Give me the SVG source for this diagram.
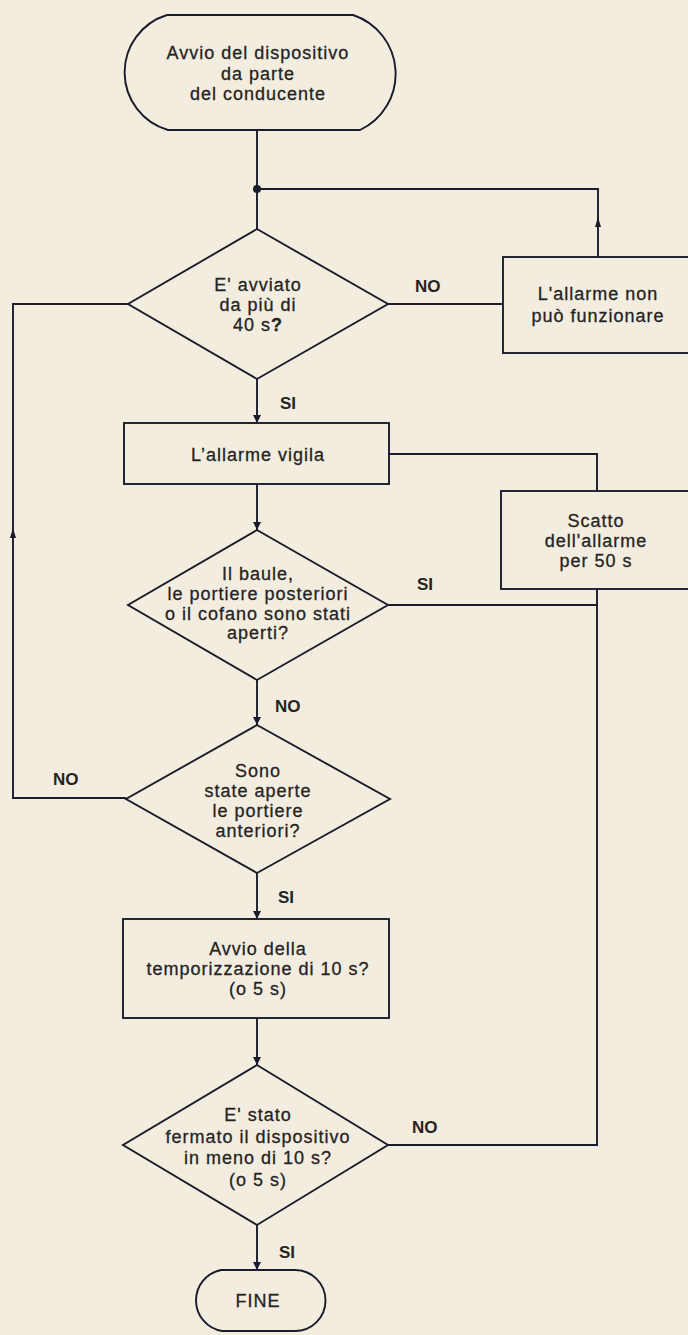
<svg xmlns="http://www.w3.org/2000/svg" width="688" height="1335" viewBox="0 0 688 1335">
<style>
.bg{fill:#f2eddf}
.shape{fill:none;stroke:#1c1b2b;stroke-width:1.9;stroke-linejoin:miter}
.line{fill:none;stroke:#1c1b2b;stroke-width:1.9}
.t{font-family:"Liberation Sans",Arial,sans-serif;font-size:18px;letter-spacing:1px;fill:#262323;stroke:#262323;stroke-width:0.3;text-anchor:middle}
.lab{font-family:"Liberation Sans",Arial,sans-serif;font-size:17px;font-weight:bold;fill:#262323}
.ah{fill:#1c1b2b}
</style>
<defs>
<marker id="arr" markerUnits="userSpaceOnUse" markerWidth="8" markerHeight="10" refX="10" refY="5" viewBox="0 0 10 10" orient="auto">
<path d="M0,0 L10,5 L0,10 Z" class="ah"/>
</marker>
</defs>
<rect class="bg" x="0" y="0" width="688" height="1335"/>

<g id="connectors">
<path class="line" d="M257,130 V229"/>
<circle class="ah" cx="257" cy="189" r="4"/>
<path class="line" d="M598,257 V189 H257"/>
<path class="ah" d="M598,217 L595,227 L601,227 Z"/>
<path class="line" d="M388,304 H503"/>
<path class="line" d="M128,304 H13 V798 H126"/>
<path class="ah" d="M13,528 L10,538 L16,538 Z"/>
<path class="line" d="M257,379 V423" marker-end="url(#arr)"/>
<path class="line" d="M257,484 V530" marker-end="url(#arr)"/>
<path class="line" d="M389,454 H597 V491"/>
<path class="line" d="M388,605 H597"/>
<path class="line" d="M597,589 V1145 H388"/>
<path class="line" d="M257,680 V725" marker-end="url(#arr)"/>
<path class="line" d="M257,873 V919" marker-end="url(#arr)"/>
<path class="line" d="M257,1018 V1065" marker-end="url(#arr)"/>
<path class="line" d="M257,1225 V1270" marker-end="url(#arr)"/>
<text class="lab" x="415" y="292">NO</text>
<text class="lab" x="280" y="409">SI</text>
<text class="lab" x="417" y="590">SI</text>
<text class="lab" x="275" y="712">NO</text>
<text class="lab" x="53" y="785">NO</text>
<text class="lab" x="278" y="903">SI</text>
<text class="lab" x="412" y="1133">NO</text>
<text class="lab" x="279" y="1258">SI</text>
</g>

<g id="start">
<path class="shape" d="M167,15 H353 A62,62 0 0 1 360,130 H168 A60,60 0 0 1 167,15 Z"/>
<text class="t" x="258" y="59">Avvio del dispositivo</text>
<text class="t" x="258" y="80">da parte</text>
<text class="t" x="258" y="100">del conducente</text>
</g>

<g id="d1">
<polygon class="shape" points="257,229 388,304 257,379 128,304"/>
<text class="t" x="258" y="291">E' avviato</text>
<text class="t" x="258" y="311">da più di</text>
<text class="t" x="258" y="331">40 s<tspan font-weight="bold">?</tspan></text>
</g>

<g id="box1">
<rect class="shape" x="503" y="257" width="200" height="96"/>
<text class="t" x="598" y="300">L'allarme non</text>
<text class="t" x="598" y="322">può funzionare</text>
</g>

<g id="box2">
<rect class="shape" x="124" y="423" width="265" height="61"/>
<text class="t" x="258" y="461">L’allarme vigila</text>
</g>

<g id="box3">
<rect class="shape" x="501" y="491" width="200" height="98"/>
<text class="t" x="596" y="527">Scatto</text>
<text class="t" x="596" y="547">dell'allarme</text>
<text class="t" x="596" y="567">per 50 s</text>
</g>

<g id="d2">
<polygon class="shape" points="257,530 388,605 257,680 128,605"/>
<text class="t" x="258" y="580">Il baule,</text>
<text class="t" x="258" y="600">le portiere posteriori</text>
<text class="t" x="258" y="620">o il cofano sono stati</text>
<text class="t" x="258" y="639">aperti?</text>
</g>

<g id="d3">
<polygon class="shape" points="257,725 390,799 257,873 126,799"/>
<text class="t" x="258" y="777">Sono</text>
<text class="t" x="258" y="797">state aperte</text>
<text class="t" x="258" y="817">le portiere</text>
<text class="t" x="258" y="837">anteriori?</text>
</g>

<g id="box4">
<rect class="shape" x="123" y="919" width="266" height="99"/>
<text class="t" x="258" y="955">Avvio della</text>
<text class="t" x="258" y="975">temporizzazione di 10 s?</text>
<text class="t" x="258" y="995">(o 5 s)</text>
</g>

<g id="d5">
<polygon class="shape" points="257,1065 388,1145 257,1225 123,1145"/>
<text class="t" x="258" y="1121">E' stato</text>
<text class="t" x="258" y="1143">fermato il dispositivo</text>
<text class="t" x="258" y="1164">in meno di 10 s?</text>
<text class="t" x="258" y="1186">(o 5 s)</text>
</g>

<g id="end">
<path class="shape" d="M221,1270 H295 A30,30 0 0 1 295,1331 H222 A31,31 0 0 1 221,1270 Z"/>
<text class="t" x="258" y="1307">FINE</text>
</g>
</svg>
